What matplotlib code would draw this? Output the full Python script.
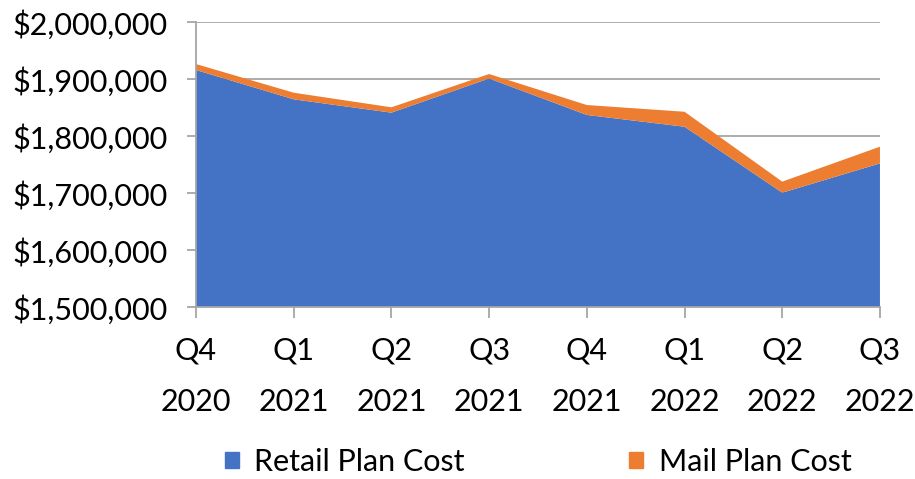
import matplotlib.pyplot as plt
from matplotlib.patches import Patch
from matplotlib.ticker import FuncFormatter

quarters = ["Q4\n2020", "Q1\n2021", "Q2\n2021", "Q3\n2021", "Q4\n2021", "Q1\n2022", "Q2\n2022", "Q3\n2022"]
retail_cost = [1915800, 1864400, 1841000, 1901000, 1837000, 1816300, 1700600, 1752000]
mail_cost = [10500, 11600, 9400, 7800, 17400, 26300, 19400, 29300]

plt.rcParams["font.family"] = ["Lato", "DejaVu Sans"]

fig = plt.figure(figsize=(9.15, 4.79), dpi=100)
ax = fig.add_axes([0.2142, 0.359, 0.7475, 0.595])

x = range(len(quarters))
ax.stackplot(x, retail_cost, mail_cost, colors=["#4472C4", "#ED7D31"], zorder=2)

ax.set_xlim(0, len(quarters) - 1)
ax.set_ylim(1500000, 2000000)
ax.set_yticks(range(1500000, 2000001, 100000))
ax.yaxis.set_major_formatter(FuncFormatter(lambda v, p: "${:,.0f}".format(v)))
ax.set_xticks(list(x))
ax.set_xticklabels(quarters, linespacing=2.05)

ax.grid(axis="y", color="#A6A6A6", linewidth=1.3, zorder=1)
ax.set_axisbelow(True)
for s in ["top", "right"]:
    ax.spines[s].set_visible(False)
ax.spines["left"].set_color("#A6A6A6")
ax.spines["bottom"].set_color("#A6A6A6")
ax.spines["left"].set_linewidth(1.3)
ax.spines["bottom"].set_linewidth(1.3)
ax.spines["bottom"].set_zorder(3)
ax.tick_params(axis="y", length=6.5, color="#A6A6A6", width=1.3, labelsize=22, pad=14)
ax.tick_params(axis="x", length=8, color="#A6A6A6", width=1.3, labelsize=22, pad=13)

handles = [Patch(color="#4472C4", label="Retail Plan Cost"),
           Patch(color="#ED7D31", label="Mail Plan Cost")]
fig.legend(handles=handles, loc="center", bbox_to_anchor=(0.588, 0.036), ncol=2,
           frameon=False, fontsize=22, handlelength=0.46, handleheight=0.46,
           handletextpad=0.5, columnspacing=5.4)

fig.savefig("out.png", dpi=100)
